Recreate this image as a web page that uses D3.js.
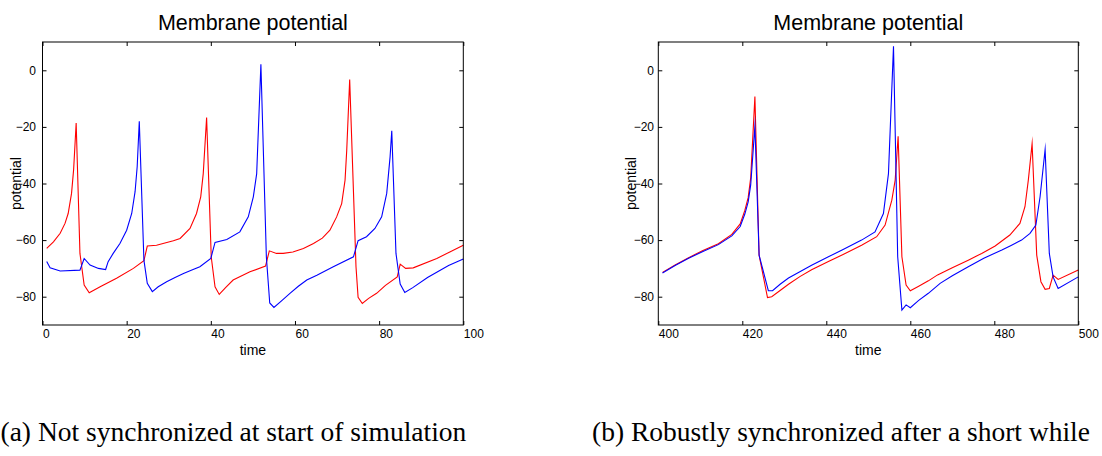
<!DOCTYPE html>
<html><head><meta charset="utf-8">
<script src="https://cdn.jsdelivr.net/npm/d3@7"></script>
<style>body{margin:0;background:#fff}svg{display:block}</style>
</head><body>
<svg id="c" width="1102" height="456"></svg>
<script>
// ---------- data ----------
const chartTitle = "Membrane potential";
const xLabel = "time";
const yLabel = "potential";
const yTicks = [0, -20, -40, -60, -80];
const xTicksA = [0, 20, 40, 60, 80, 100];
const xTicksB = [400, 420, 440, 460, 480, 500];
const captionA = "(a) Not synchronized at start of simulation";
const captionB = "(b) Robustly synchronized after a short while";

// Panel (a): red neuron
const redTimeA = [1.0,2.6,4.2,5.35,6.1,6.9,7.4,8.0,8.9,9.9,11.1,13.7,17.6,21.6,24.1,24.9,27.1,31.1,32.7,35.05,36.6,37.6,38.2,39.0,40.1,41.0,42.0,43.5,45.3,49.3,53.0,53.9,55.6,57.2,59.5,62.0,64.4,66.5,68.3,69.9,71.1,71.9,72.3,73.0,74.5,75.0,76.0,77.5,79.4,81.5,84.3,85.0,86.3,88.1,93.7,100];
const redValA  = [-62.9,-60.6,-57.6,-54.1,-50.6,-43.5,-35.0,-18.6,-64.7,-75.9,-78.6,-76.5,-73.5,-70.0,-67.3,-62.1,-61.8,-60.2,-59.4,-55.9,-50.6,-44.7,-36.5,-16.7,-66.0,-76.5,-79.2,-76.8,-74.1,-71.2,-69.2,-63.8,-64.7,-64.7,-64.2,-63.0,-61.2,-59.3,-56.5,-51.8,-47.1,-38.8,-28.2,-3.3,-69.4,-80.2,-82.4,-80.6,-78.8,-76.0,-73.0,-68.5,-70.0,-69.8,-66.5,-61.8];
// Panel (a): blue neuron
const blueTimeA = [1.0,1.8,4.2,8.9,9.9,11.3,13.3,15.0,15.6,16.8,18.4,20.0,21.2,22.0,22.5,23.0,24.1,24.9,26.1,27.5,29.5,31.5,33.5,35.5,37.4,40.0,41.0,43.8,46.9,48.9,50.1,50.9,51.9,53.2,54.0,55.0,57.0,58.8,60.8,62.8,65.2,69.1,73.9,75.0,77.0,79.0,80.6,81.8,82.6,83.0,84.0,85.0,86.1,88.0,91.5,96.5,100];
const blueValA  = [-67.6,-69.8,-70.9,-70.6,-66.5,-68.8,-70.0,-70.4,-67.6,-64.7,-61.2,-56.5,-50.6,-42.9,-34.1,-18.0,-67.1,-75.3,-78.2,-76.5,-74.7,-73.2,-71.8,-70.6,-69.4,-66.5,-60.8,-59.8,-57.1,-51.8,-44.7,-36.5,2.1,-66.0,-82.2,-83.8,-81.2,-78.8,-76.3,-74.1,-72.4,-69.4,-65.9,-60.2,-58.8,-55.9,-51.8,-43.5,-30.6,-21.4,-64.7,-75.5,-78.5,-76.8,-73.2,-69.0,-66.7];

// Panel (b): red neuron
const redTimeB = [401,404,407.1,410.5,414.3,417.5,419.5,420.6,421.4,422.0,423.0,424.0,426.0,427.0,429.0,431.0,433.7,436.5,440.5,444.0,448.4,452.0,454.0,455.6,456.4,457.1,458.0,459.0,460.0,462.0,464.3,466.5,470.0,473.8,477.0,480.2,483.7,486.1,487.3,488.1,489.0,490.1,491.1,492.1,493.1,494.0,495.2,500];
const redValB  = [-71.4,-68.8,-66.3,-63.8,-61.3,-58.0,-54.3,-49.5,-45.0,-38.0,-9.3,-65.3,-80.3,-80.0,-77.8,-75.6,-72.9,-70.5,-67.6,-65.1,-61.8,-58.8,-54.7,-45.9,-38.8,-23.3,-65.9,-75.9,-77.9,-76.3,-74.4,-72.3,-69.8,-67.1,-64.7,-62.1,-58.2,-54.1,-48.2,-38.8,-25.9,-65.3,-74.7,-77.4,-77.1,-72.4,-73.9,-70.6];
// Panel (b): blue neuron
const blueTimeB = [401,404,407.1,410.5,414.3,417.5,419.5,420.6,421.4,422.0,423.0,424.0,426.2,427.2,429.0,431.0,433.7,436.5,440.5,444.0,448.4,451.6,453.6,454.8,456.0,457.0,458.0,459.0,460.0,462.0,464.3,467.1,470.0,473.8,477.5,481.8,484.0,486.5,488.5,489.9,490.9,492.1,493.1,494.0,495.2,500];
const blueValB  = [-71.6,-69.0,-66.5,-64.1,-61.6,-58.5,-55.2,-50.8,-46.5,-40.5,-19.7,-65.3,-77.9,-77.9,-75.6,-73.4,-71.2,-68.9,-65.9,-63.3,-60.0,-57.1,-50.6,-36.5,8.5,-65.9,-84.7,-82.9,-83.9,-81.3,-78.8,-75.3,-72.6,-69.4,-66.4,-63.5,-61.9,-60.0,-57.6,-54.7,-44.7,-28.0,-64.7,-73.0,-77.1,-73.0];

// ---------- layout ----------
const svg = d3.select("#c");
const FONT = "'Liberation Sans', Arial, Helvetica, sans-serif";
const plotTop = 42, plotBottom = 325;
const yDomain = [-90, 10];

const panels = [
  {left: 42.5, right: 463.3, xDomain: [0, 100], xTicks: xTicksA, yLabGap: 6.5, ylabX: 21,
   series: [{t: redTimeA, v: redValA, c: "#ff0000"}, {t: blueTimeA, v: blueValA, c: "#0000ff"}]},
  {left: 658.3, right: 1078.3, xDomain: [400, 500], xTicks: xTicksB, yLabGap: 4.3, ylabX: 636,
   series: [{t: redTimeB, v: redValB, c: "#ff0000"}, {t: blueTimeB, v: blueValB, c: "#0000ff"}]}
];

panels.forEach(p => {
  const x = d3.scaleLinear().domain(p.xDomain).range([p.left, p.right]);
  const y = d3.scaleLinear().domain(yDomain).range([plotBottom, plotTop]);
  const g = svg.append("g");

  // data lines
  const line = d3.line().x(d => x(d[0])).y(d => y(d[1]));
  p.series.forEach(s => {
    const pts = s.t.map((t, i) => [t, s.v[i]]);
    g.append("path").datum(pts).attr("d", line)
      .attr("fill", "none").attr("stroke", s.c).attr("stroke-width", 1.1)
      .attr("stroke-linejoin", "miter").attr("stroke-miterlimit", 20);
  });

  // axes (inward ticks, box)
  const styleAxis = sel => {
    sel.select(".domain").remove();
    sel.selectAll(".tick line").attr("stroke", "#000").attr("stroke-width", 1);
    sel.selectAll("text").attr("font-family", FONT).attr("font-size", 12).attr("fill", "#000");
  };
  g.append("g").attr("transform", `translate(0,${plotBottom})`)
    .call(d3.axisBottom(x).tickValues(p.xTicks).tickSizeInner(-4).tickSizeOuter(0).tickPadding(4).tickFormat(d3.format("d")))
    .call(styleAxis)
    .call(a => a.selectAll("text").attr("text-anchor", "start"));
  g.append("g").attr("transform", `translate(0,${plotTop})`)
    .call(d3.axisTop(x).tickValues(p.xTicks).tickSizeInner(-4).tickSizeOuter(0).tickFormat(""))
    .call(styleAxis);
  g.append("g").attr("transform", `translate(${p.left},0)`)
    .call(d3.axisLeft(y).tickValues(yTicks).tickSizeInner(-4).tickSizeOuter(0).tickPadding(p.yLabGap).tickFormat(d3.format("d")))
    .call(styleAxis);
  g.append("g").attr("transform", `translate(${p.right},0)`)
    .call(d3.axisRight(y).tickValues(yTicks).tickSizeInner(-4).tickSizeOuter(0).tickFormat(""))
    .call(styleAxis);

  g.append("rect").attr("x", p.left).attr("y", plotTop)
    .attr("width", p.right - p.left).attr("height", plotBottom - plotTop)
    .attr("fill", "none").attr("stroke", "#000").attr("stroke-width", 1);

  const cx = (p.left + p.right) / 2;
  g.append("text").attr("x", cx).attr("y", 30).attr("text-anchor", "middle")
    .attr("font-family", FONT).attr("font-size", 21.5).text(chartTitle);
  g.append("text").attr("x", cx).attr("y", 355).attr("text-anchor", "middle")
    .attr("font-family", FONT).attr("font-size", 14).text(xLabel);
  g.append("text").attr("transform", `translate(${p.ylabX},${(plotTop + plotBottom) / 2}) rotate(-90)`)
    .attr("text-anchor", "middle").attr("font-family", FONT).attr("font-size", 14).text(yLabel);
});

// captions (serif, LaTeX-like)
const SERIF = "'Liberation Serif', 'DejaVu Serif', serif";
const capA = svg.append("text").attr("x", 0.5).attr("y", 441)
  .attr("font-family", SERIF).attr("font-size", 20).text(captionA);
const wA = capA.node().getComputedTextLength();
const capSize = 20 * 466 / wA;
capA.attr("font-size", capSize);
svg.append("text").attr("x", 592).attr("y", 441)
  .attr("font-family", SERIF).attr("font-size", capSize).text(captionB);
</script>
</body></html>
